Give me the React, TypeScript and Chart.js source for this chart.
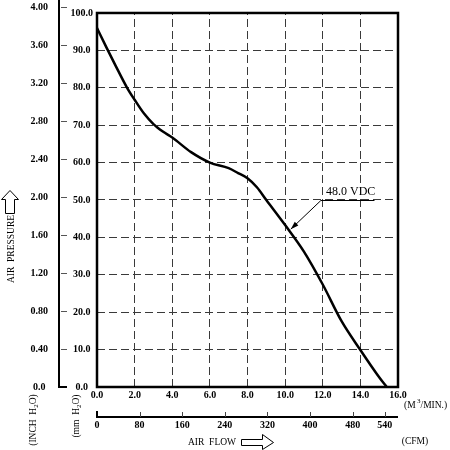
import { useEffect, useRef } from "react";
import { Chart, registerables } from "chart.js";

Chart.register(...registerables);

// Fan performance curve: static pressure (mm H2O) against air flow (m³/min)
const FLOW_M3 = [0, 0.5, 1.0, 1.6, 2.0, 2.5, 3.0, 3.5, 4.0, 5.0, 6.0, 7.0, 7.5, 8.0, 8.5, 9.0, 10.0, 11.0, 12.0, 13.0, 14.0, 15.0, 15.4];
const PRESSURE_MM = [96, 90.8, 85.8, 80, 76.8, 73.1, 70.3, 68.3, 66.7, 62.8, 60.0, 58.5, 57.2, 55.8, 53.4, 50.0, 43.3, 36.2, 27.4, 17.6, 9.9, 2.6, 0];

// Axis ticks
const FLOW_TICKS = [0, 2, 4, 6, 8, 10, 12, 14, 16];
const MM_TICKS = [0, 10, 20, 30, 40, 50, 60, 70, 80, 90, 100];
const INCH_TICKS = [0, 0.4, 0.8, 1.2, 1.6, 2.0, 2.4, 2.8, 3.2, 3.6, 4.0];
const CFM_TICKS = [0, 80, 160, 240, 320, 400, 480, 540];

const FLOW_MAX = 16;
const MM_FRAME_TOP = 100;
const INCH_MAX = 4;
const MM_PER_INCH = 25.4;
const CFM_PER_M3MIN = 35.3147;

// Curve callout (data units: m³/min, mm H2O)
const CURVE_LABEL = "48.0 VDC";
const CALLOUT_TIP = [10.3, 42.2];
const CALLOUT_ELBOW = [11.9, 50.0];
const CALLOUT_END_FLOW = 14.75;

const TICK_FONT = { family: "'Liberation Serif', serif", size: 10, weight: "bold" as const };
const TITLE_FONT = "9.5px 'Liberation Serif', serif";
const SUB_FONT = "7px 'Liberation Serif', serif";

type Part = [string, boolean?];

function drawParts(ctx: CanvasRenderingContext2D, parts: Part[], x0: number, y0: number, align: "left" | "center") {
  const widths = parts.map(([t, sub]) => {
    ctx.font = sub ? SUB_FONT : TITLE_FONT;
    return ctx.measureText(t).width;
  });
  const total = widths.reduce((s, w) => s + w, 0);
  let x = align === "center" ? x0 - total / 2 : x0;
  ctx.textAlign = "left";
  ctx.textBaseline = "middle";
  parts.forEach(([t, sub], i) => {
    ctx.font = sub ? SUB_FONT : TITLE_FONT;
    ctx.fillText(t, x, y0 + (sub ? 3 : 0));
    x += widths[i];
  });
}

function verticalText(ctx: CanvasRenderingContext2D, parts: Part[], cx: number, cy: number) {
  ctx.save();
  ctx.translate(cx, cy);
  ctx.rotate(-Math.PI / 2);
  drawParts(ctx, parts, 0, 0, "center");
  ctx.restore();
}

const decorPlugin = {
  id: "fanDecor",
  beforeDatasetsDraw(chart: any) {
    const { ctx, chartArea: a, scales } = chart;
    const yTop = scales.y.getPixelForValue(MM_FRAME_TOP);
    ctx.save();
    ctx.fillStyle = "#fff";
    ctx.fillRect(a.left - 3, a.top - 3, a.right - a.left + 6, yTop - a.top + 2);
    ctx.restore();
  },
  afterDatasetsDraw(chart: any) {
    const { ctx, chartArea: a, scales } = chart;
    const xs = scales.x;
    const ys = scales.y;
    const yIn = scales.yIn;
    const cfm = scales.xCfm;
    const yTop = ys.getPixelForValue(MM_FRAME_TOP);

    ctx.save();
    ctx.strokeStyle = "#000";
    ctx.fillStyle = "#000";

    // plot frame
    ctx.lineWidth = 2.5;
    ctx.strokeRect(a.left, yTop, a.right - a.left, a.bottom - yTop);

    // inch axis: line with ticks on the inner side
    const xi = yIn.right;
    ctx.lineWidth = 2;
    ctx.beginPath();
    ctx.moveTo(xi, 0);
    ctx.lineTo(xi, a.bottom);
    ctx.lineTo(xi + 8, a.bottom);
    ctx.stroke();
    ctx.lineWidth = 1;
    ctx.strokeStyle = "#555";
    INCH_TICKS.forEach((v) => {
      if (v === 0) return;
      const py = Math.round(yIn.getPixelForValue(v)) + 0.5;
      ctx.beginPath();
      ctx.moveTo(xi + 2, py);
      ctx.lineTo(xi + 8, py);
      ctx.stroke();
    });

    // CFM axis: line with upward ticks
    const yc = cfm.top + 1;
    const xc0 = cfm.getPixelForValue(0);
    ctx.strokeStyle = "#000";
    ctx.lineWidth = 2;
    ctx.beginPath();
    ctx.moveTo(xc0, yc - 6);
    ctx.lineTo(xc0, yc);
    ctx.lineTo(a.right, yc);
    ctx.stroke();
    ctx.lineWidth = 1;
    ctx.strokeStyle = "#444";
    CFM_TICKS.forEach((v) => {
      if (v === 0) return;
      const px = Math.round(cfm.getPixelForValue(v)) + 0.5;
      ctx.beginPath();
      ctx.moveTo(px, yc - 5);
      ctx.lineTo(px, yc);
      ctx.stroke();
    });

    // curve callout
    const tx = xs.getPixelForValue(CALLOUT_TIP[0]);
    const ty = ys.getPixelForValue(CALLOUT_TIP[1]);
    const ex = xs.getPixelForValue(CALLOUT_ELBOW[0]);
    const ey = Math.round(ys.getPixelForValue(CALLOUT_ELBOW[1])) + 0.5;
    const endX = xs.getPixelForValue(CALLOUT_END_FLOW);
    ctx.strokeStyle = "#000";
    ctx.lineWidth = 1;
    ctx.beginPath();
    ctx.moveTo(endX, ey);
    ctx.lineTo(ex, ey);
    ctx.lineTo(tx, ty);
    ctx.stroke();
    const ang = Math.atan2(ty - ey, tx - ex);
    const hl = 8;
    const hw = 2.6;
    ctx.beginPath();
    ctx.moveTo(tx, ty);
    ctx.lineTo(tx - hl * Math.cos(ang) + hw * Math.sin(ang), ty - hl * Math.sin(ang) - hw * Math.cos(ang));
    ctx.lineTo(tx - hl * Math.cos(ang) - hw * Math.sin(ang), ty - hl * Math.sin(ang) + hw * Math.cos(ang));
    ctx.closePath();
    ctx.fill();
    ctx.font = "12px 'Liberation Serif', serif";
    ctx.textAlign = "center";
    ctx.textBaseline = "alphabetic";
    ctx.fillText(CURVE_LABEL, (ex + endX) / 2 + 3, ey - 6);

    // axis titles
    ctx.fillStyle = "#000";
    verticalText(ctx, [["AIR  PRESSURE"]], 11, 249);
    verticalText(ctx, [["(INCH  H"], ["2", true], ["O)"]], 33, 420);
    verticalText(ctx, [["(mm  H"], ["2", true], ["O)"]], 76, 416);
    drawParts(ctx, [["AIR  FLOW"]], 212, 442, "center");
    drawParts(ctx, [["(CFM)"]], 415, 441, "center");

    // (M³/MIN.) unit label with superscript
    ctx.font = TITLE_FONT;
    ctx.textAlign = "left";
    ctx.textBaseline = "middle";
    const ux = a.right + 6;
    const uy = 405;
    ctx.fillText("(M ", ux, uy);
    let w = ctx.measureText("(M ").width;
    ctx.font = SUB_FONT;
    ctx.fillText("3", ux + w - 1, uy - 4);
    w += ctx.measureText("3").width - 1;
    ctx.font = TITLE_FONT;
    ctx.fillText("/MIN.)", ux + w, uy);

    // hollow arrows
    ctx.lineWidth = 1;
    ctx.strokeStyle = "#000";
    // up arrow beside pressure title
    ctx.beginPath();
    ctx.moveTo(10, 190.5);
    ctx.lineTo(18.5, 199.5);
    ctx.lineTo(14.5, 199.5);
    ctx.lineTo(14.5, 213.5);
    ctx.lineTo(5.5, 213.5);
    ctx.lineTo(5.5, 199.5);
    ctx.lineTo(1.5, 199.5);
    ctx.closePath();
    ctx.stroke();
    // right arrow beside flow title
    ctx.beginPath();
    ctx.moveTo(241.5, 439.5);
    ctx.lineTo(262.5, 439.5);
    ctx.lineTo(262.5, 434.5);
    ctx.lineTo(273.5, 442.5);
    ctx.lineTo(262.5, 449.5);
    ctx.lineTo(262.5, 445.5);
    ctx.lineTo(241.5, 445.5);
    ctx.closePath();
    ctx.stroke();

    ctx.restore();
  },
};

export default function App() {
  const canvasRef = useRef<HTMLCanvasElement | null>(null);

  useEffect(() => {
    const canvas = canvasRef.current;
    if (!canvas) return;

    const gridLine = { display: true, drawTicks: false, color: "#3a3a3a", lineWidth: 1 };
    const dashed = { display: false, dash: [8, 4] };

    const chart = new Chart(canvas, {
      type: "line",
      data: {
        datasets: [
          {
            data: FLOW_M3.map((x, i) => ({ x, y: PRESSURE_MM[i] })),
            xAxisID: "x",
            yAxisID: "y",
            borderColor: "#000",
            borderWidth: 2.5,
            pointRadius: 0,
            cubicInterpolationMode: "monotone",
            fill: false,
          },
        ],
      },
      options: {
        responsive: false,
        animation: false,
        devicePixelRatio: 1,
        layout: { padding: { left: 0, top: 7, right: 52, bottom: 0 } },
        plugins: { legend: { display: false }, tooltip: { enabled: false } },
        scales: {
          x: {
            type: "linear",
            position: "bottom",
            weight: 0,
            min: 0,
            max: FLOW_MAX,
            afterBuildTicks: (s: any) => {
              s.ticks = FLOW_TICKS.map((value) => ({ value }));
            },
            afterFit: (s: any) => {
              s.height = 29;
              s.paddingLeft = 0;
              s.paddingRight = 0;
            },
            grid: gridLine,
            border: dashed,
            ticks: {
              font: TICK_FONT,
              color: "#000",
              padding: 2,
              maxRotation: 0,
              minRotation: 0,
              autoSkip: false,
              callback: (v: any) => Number(v).toFixed(1),
            },
          },
          xCfm: {
            type: "linear",
            position: "bottom",
            weight: 1,
            min: 0,
            max: FLOW_MAX * CFM_PER_M3MIN,
            afterBuildTicks: (s: any) => {
              s.ticks = CFM_TICKS.map((value) => ({ value }));
            },
            afterFit: (s: any) => {
              s.height = 34;
              s.paddingLeft = 0;
              s.paddingRight = 0;
            },
            grid: { display: false, drawTicks: false },
            border: { display: false },
            ticks: {
              font: TICK_FONT,
              color: "#000",
              padding: 3,
              maxRotation: 0,
              minRotation: 0,
              autoSkip: false,
              callback: (v: any) => String(v),
            },
          },
          y: {
            type: "linear",
            position: "left",
            weight: 0,
            min: 0,
            max: INCH_MAX * MM_PER_INCH,
            afterBuildTicks: (s: any) => {
              s.ticks = MM_TICKS.map((value) => ({ value }));
            },
            afterFit: (s: any) => {
              s.width = 38;
              s.paddingTop = 0;
              s.paddingBottom = 0;
            },
            grid: gridLine,
            border: dashed,
            ticks: {
              font: TICK_FONT,
              color: "#000",
              padding: 4,
              crossAlign: "center",
              autoSkip: false,
              callback: (v: any) => Number(v).toFixed(1),
            },
          },
          yIn: {
            type: "linear",
            position: "left",
            weight: 1,
            min: 0,
            max: INCH_MAX,
            afterBuildTicks: (s: any) => {
              s.ticks = INCH_TICKS.map((value) => ({ value }));
            },
            afterFit: (s: any) => {
              s.width = 59;
              s.paddingTop = 0;
              s.paddingBottom = 0;
            },
            grid: { display: false, drawTicks: false },
            border: { display: false },
            ticks: {
              font: TICK_FONT,
              color: "#000",
              padding: 11,
              crossAlign: "center",
              autoSkip: false,
              callback: (v: any) => (Number(v) === 0 ? "0.0" : Number(v).toFixed(2)),
            },
          },
        },
      } as any,
      plugins: [decorPlugin],
    });

    return () => chart.destroy();
  }, []);

  return (
    <div style={{ position: "fixed", left: 0, top: 0, width: 450, height: 450, background: "#fff" }}>
      <canvas ref={canvasRef} width={450} height={450} style={{ display: "block" }} />
    </div>
  );
}
